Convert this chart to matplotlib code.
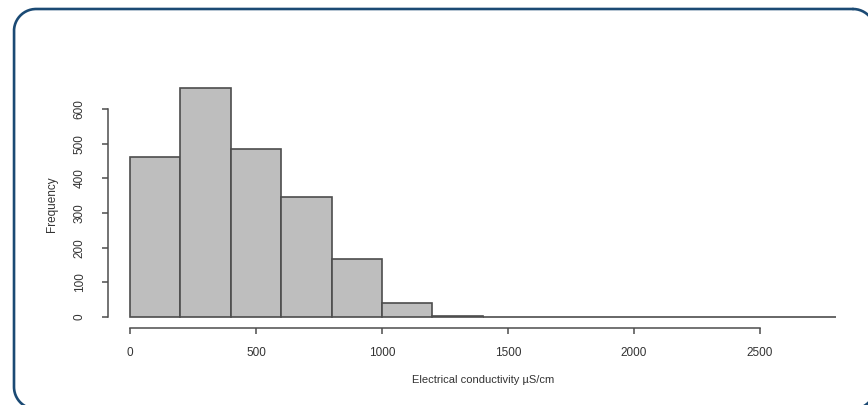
import numpy as np
import matplotlib.pyplot as plt

# ---- histogram data (bins of 200 uS/cm) ----
bin_edges = np.arange(0, 2801, 200)
counts = [461, 660, 485, 346, 167, 40, 3, 0, 0, 0, 0, 0, 0, 0]
x_ticks = [0, 500, 1000, 1500, 2000, 2500]
y_ticks = [0, 100, 200, 300, 400, 500, 600]

W, H = 868, 405
fig = plt.figure(figsize=(W / 100, H / 100), dpi=100)
plt.rcParams['font.family'] = ['Liberation Sans', 'DejaVu Sans']


def rounded_rect(x0, y0, x1, y1, r, n=40):
    # corner arcs, pixel coords with y going down
    pts = []
    for cx, cy, a0 in [(x1 - r, y0 + r, -90), (x1 - r, y1 - r, 0),
                       (x0 + r, y1 - r, 90), (x0 + r, y0 + r, 180)]:
        t = np.radians(np.linspace(a0, a0 + 90, n))
        pts.append(np.column_stack([cx + r * np.cos(t), cy + r * np.sin(t)]))
    pts = np.vstack(pts + [pts[0][:1]])
    return pts[:, 0], pts[:, 1]


# ---- rounded frame in pixel coordinates ----
bg = fig.add_axes([0, 0, 1, 1])
bg.set_xlim(0, W)
bg.set_ylim(H, 0)
bg.axis('off')
fx, fy = rounded_rect(14, 9, 875, 409, 22)
bg.plot(fx, fy, color='#1b4a74', linewidth=1.9, clip_on=False,
        solid_capstyle='round')

# ---- plot area: pixel mapping 0->130px, 2500->760px ; 0->317px, 600->109px ----
px_x = (760 - 130) / 2500
px_y = (317 - 109) / 600
left_px, right_px, top_px, bot_px = 100, 850, 80, 335
ax = fig.add_axes([left_px / W, 1 - bot_px / H,
                   (right_px - left_px) / W, (bot_px - top_px) / H])
ax.set_xlim((left_px - 130) / px_x, (right_px - 130) / px_x)
ax.set_ylim((317 - bot_px) / px_y, (317 - top_px) / px_y)
ax.patch.set_alpha(0)

ax.bar(bin_edges[:-1], counts, width=np.diff(bin_edges), align='edge',
       color='#bebebe', edgecolor='#4d4d4d', linewidth=1.2)

edge_col = '#4d4d4d'
for s in ['top', 'right']:
    ax.spines[s].set_visible(False)
ax.spines['left'].set_position(('data', (108 - 130) / px_x))
ax.spines['left'].set_bounds(0, 600)
ax.spines['bottom'].set_position(('data', (317 - 328) / px_y))
ax.spines['bottom'].set_bounds(0, 2500)
for s in ['left', 'bottom']:
    ax.spines[s].set_color(edge_col)
    ax.spines[s].set_linewidth(1.1)

ax.set_xticks(x_ticks)
ax.set_yticks(y_ticks)
ax.set_xticklabels([str(v) for v in x_ticks])
ax.set_yticklabels([str(v) for v in y_ticks], rotation=90, va='center')
ax.tick_params(axis='both', direction='out', length=4, width=1.1,
               color=edge_col, labelcolor='#333333', labelsize=8.5)
ax.tick_params(axis='x', pad=10)
ax.tick_params(axis='y', pad=12)

fig.text(483 / W, 1 - 380 / H, 'Electrical conductivity µS/cm',
         ha='center', va='center', fontsize=8, color='#333333')
fig.text(52 / W, 1 - 204 / H, 'Frequency', rotation=90,
         ha='center', va='center', fontsize=8.5, color='#333333')

fig.savefig('out.png', dpi=100)
